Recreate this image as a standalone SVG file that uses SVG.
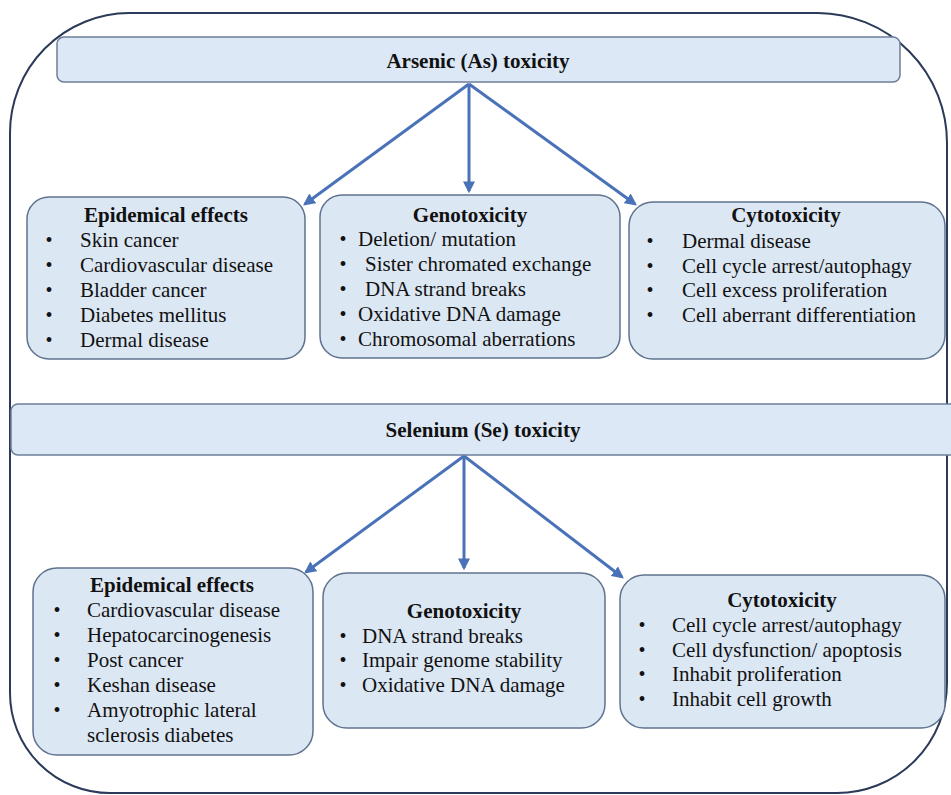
<svg xmlns="http://www.w3.org/2000/svg" width="951" height="795" viewBox="0 0 951 795">
<defs>
<style>
.frame{fill:none;stroke:#2b3a58;stroke-width:2}
.hdr{fill:#dce8f5;stroke:#6d7f98;stroke-width:1.5}
.box{fill:#dce7f4;stroke:#5f738f;stroke-width:1.5}
.conn line{stroke:#4a72b8;stroke-width:3;marker-end:url(#ah)}
text{font-family:'Liberation Serif','DejaVu Serif',serif;fill:#111}
.h{font-size:21px;font-weight:bold;text-anchor:middle}
.t{font-size:21px;font-weight:bold;text-anchor:middle}
.i{font-size:21px}
.b{font-size:20px;text-anchor:middle}
</style>
<marker id="ah" viewBox="0 0 10 10" refX="8" refY="5" markerWidth="4" markerHeight="4" orient="auto" markerUnits="strokeWidth">
<path d="M0,0 L10,5 L0,10 z" fill="#4a72b8"/>
</marker>
</defs>
<rect x="0" y="0" width="951" height="795" fill="#ffffff"/>
<path class="frame" d="M129,13 H818 A130,130 0 0 1 947,143 V683 A110,110 0 0 1 837,793 H110 A100,100 0 0 1 10,693 V133 A120,120 0 0 1 129,13 Z"/>

<g id="arsenic-header">
<rect class="hdr" x="57" y="37" width="843" height="45" rx="7"/>
<text class="h" x="478" y="68">Arsenic (As) toxicity</text>
</g>

<g id="as-epidemical">
<rect class="box" x="27" y="197" width="278" height="162" rx="22"/>
<text class="t" x="166" y="222">Epidemical effects</text>
<text class="b" x="49" y="247">•</text><text class="i" x="80" y="247">Skin cancer</text>
<text class="b" x="49" y="272">•</text><text class="i" x="80" y="272">Cardiovascular disease</text>
<text class="b" x="49" y="297">•</text><text class="i" x="80" y="297">Bladder cancer</text>
<text class="b" x="49" y="322">•</text><text class="i" x="80" y="322">Diabetes mellitus</text>
<text class="b" x="49" y="347">•</text><text class="i" x="80" y="347">Dermal  disease</text>
</g>

<g id="as-genotoxicity">
<rect class="box" x="320" y="195" width="300" height="163" rx="22"/>
<text class="t" x="470" y="222">Genotoxicity</text>
<text class="b" x="343" y="246">•</text><text class="i" x="358" y="246">Deletion/  mutation</text>
<text class="b" x="343" y="271">•</text><text class="i" x="365" y="271">Sister chromated exchange</text>
<text class="b" x="343" y="296">•</text><text class="i" x="365" y="296">DNA strand breaks</text>
<text class="b" x="343" y="321">•</text><text class="i" x="358" y="321">Oxidative DNA damage</text>
<text class="b" x="343" y="346">•</text><text class="i" x="358" y="346">Chromosomal aberrations</text>
</g>

<g id="as-cytotoxicity">
<rect class="box" x="629" y="202" width="316" height="157" rx="24"/>
<text class="t" x="786" y="222">Cytotoxicity</text>
<text class="b" x="650" y="248">•</text><text class="i" x="682" y="248">Dermal  disease</text>
<text class="b" x="650" y="273">•</text><text class="i" x="682" y="273">Cell  cycle arrest/autophagy</text>
<text class="b" x="650" y="297">•</text><text class="i" x="682" y="297">Cell  excess proliferation</text>
<text class="b" x="650" y="322">•</text><text class="i" x="682" y="322">Cell  aberrant  differentiation</text>
</g>

<g id="selenium-header">
<rect class="hdr" x="11" y="404" width="950" height="51" rx="7"/>
<text class="h" x="483" y="437">Selenium (Se) toxicity</text>
</g>

<g id="se-epidemical">
<rect class="box" x="33" y="568" width="280" height="187" rx="24"/>
<text class="t" x="172" y="592">Epidemical effects</text>
<text class="b" x="57" y="617">•</text><text class="i" x="87" y="617">Cardiovascular disease</text>
<text class="b" x="57" y="642">•</text><text class="i" x="87" y="642">Hepatocarcinogenesis</text>
<text class="b" x="57" y="667">•</text><text class="i" x="87" y="667">Post cancer</text>
<text class="b" x="57" y="692">•</text><text class="i" x="87" y="692">Keshan disease</text>
<text class="b" x="57" y="717">•</text><text class="i" x="87" y="717">Amyotrophic lateral</text>
<text class="i" x="87" y="742">sclerosis diabetes</text>
</g>

<g id="se-genotoxicity">
<rect class="box" x="323" y="573" width="282" height="155" rx="24"/>
<text class="t" x="464" y="618">Genotoxicity</text>
<text class="b" x="343" y="643">•</text><text class="i" x="362" y="643">DNA strand breaks</text>
<text class="b" x="343" y="667">•</text><text class="i" x="362" y="667">Impair  genome stability</text>
<text class="b" x="343" y="692">•</text><text class="i" x="362" y="692">Oxidative DNA damage</text>
</g>

<g id="se-cytotoxicity">
<rect class="box" x="620" y="575" width="325" height="153" rx="24"/>
<text class="t" x="782" y="607">Cytotoxicity</text>
<text class="b" x="642" y="632">•</text><text class="i" x="672" y="632">Cell  cycle arrest/autophagy</text>
<text class="b" x="642" y="657">•</text><text class="i" x="672" y="657">Cell  dysfunction/ apoptosis</text>
<text class="b" x="642" y="681">•</text><text class="i" x="672" y="681">Inhabit proliferation</text>
<text class="b" x="642" y="706">•</text><text class="i" x="672" y="706">Inhabit  cell  growth</text>
</g>

<g id="connectors" class="conn">
<line x1="469" y1="84" x2="305" y2="204"/>
<line x1="469" y1="84" x2="469" y2="191"/>
<line x1="469" y1="84" x2="635" y2="204"/>
<line x1="464" y1="456" x2="306" y2="572"/>
<line x1="464" y1="456" x2="464" y2="568"/>
<line x1="464" y1="456" x2="622" y2="577"/>
</g>
</svg>
